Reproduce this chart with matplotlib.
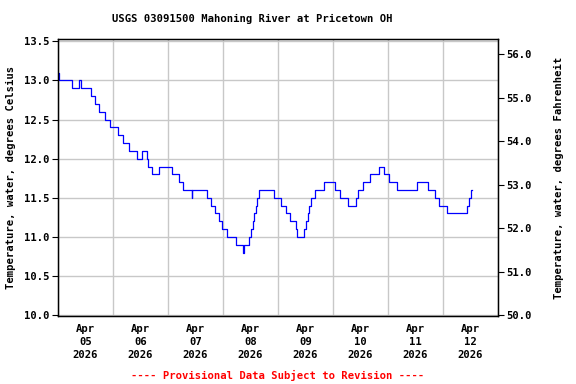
import matplotlib
matplotlib.use("Agg")
import matplotlib.pyplot as plt
import matplotlib.dates as mdates
import pandas as pd

# hours since 2026-04-05 00:00 at which each reading starts, and the reading (deg C)
hours = [0, 0.44, 6.1, 9.0, 9.9, 14.3, 16.3, 17.8, 20.6, 22.7, 26.2, 28.2, 31.1,
         34.3, 36.5, 38.7, 39.3, 41.0, 44.0, 49.9, 52.9, 54.4, 58.4, 58.6, 65.1,
         66.6, 68.5, 70.4, 71.4, 73.9, 77.7, 80.8, 81.0, 83.5, 84.3, 85.0, 85.6,
         86.3, 87.0, 87.6, 94.3, 97.2, 99.5, 101.2, 103.9, 104.2, 107.5, 108.2,
         108.9, 109.6, 110.6, 112.0, 116.2, 120.7, 123.0, 126.4, 129.9, 131.0,
         133.0, 136.1, 140.1, 142.4, 144.6, 147.8, 156.7, 161.6, 164.5, 166.4,
         169.6, 178.3, 179.5, 180.2, 180.5]
temps = [13.1, 13.0, 12.9, 13.0, 12.9, 12.8, 12.7, 12.6, 12.5, 12.4, 12.3, 12.2, 12.1,
         12.0, 12.1, 12.0, 11.9, 11.8, 11.9, 11.8, 11.7, 11.6, 11.5, 11.6, 11.5,
         11.4, 11.3, 11.2, 11.1, 11.0, 10.9, 10.8, 10.9, 11.0, 11.1, 11.2, 11.3,
         11.4, 11.5, 11.6, 11.5, 11.4, 11.3, 11.2, 11.1, 11.0, 11.1, 11.2,
         11.3, 11.4, 11.5, 11.6, 11.7, 11.6, 11.5, 11.4, 11.5, 11.6,
         11.7, 11.8, 11.9, 11.8, 11.7, 11.6, 11.7, 11.6, 11.5, 11.4,
         11.3, 11.4, 11.5, 11.6, 11.6]

start = pd.Timestamp("2026-04-05 00:00")
times = [start + pd.Timedelta(hours=h) for h in hours]
day_labels = pd.date_range("2026-04-05 12:00", periods=8, freq="D")

font = {"family": "DejaVu Sans Mono", "weight": "bold", "size": 7.6}

fig = plt.figure(figsize=(5.76, 3.84), dpi=100)
ax = fig.add_axes([58 / 576, 1 - 316 / 384, 440 / 576, 277 / 384])

ax.step(times, temps, where="post", color="#0000ff", lw=0.9)

ax.set_xlim(start, start + pd.Timedelta(days=8))
ax.set_ylim(9.99, 13.53)
ax.set_yticks([10.0, 10.5, 11.0, 11.5, 12.0, 12.5, 13.0, 13.5])
ax.set_yticklabels([f"{v:.1f}" for v in ax.get_yticks()], fontdict=font)

ax.xaxis.set_major_locator(mdates.DayLocator())
ax.xaxis.set_major_formatter(plt.NullFormatter())
ax.set_xticks(day_labels, minor=True)
ax.set_xticklabels([d.strftime("%b\n%d\n%Y") for d in day_labels], minor=True,
                   fontdict=font, linespacing=1.35)
ax.tick_params(axis="x", which="both", length=0, pad=6)
ax.tick_params(axis="y", length=4, width=0.8, pad=2)
ax.grid(True, which="major", color="#c8c8c8", lw=1)
ax.set_axisbelow(True)
for s in ax.spines.values():
    s.set_linewidth(1)

ax.set_ylabel("Temperature, water, degrees Celsius", fontdict=font, labelpad=6)

ax2 = ax.twinx()
ax2.set_ylim(9.99 * 1.8 + 32, 13.53 * 1.8 + 32)
ax2.set_yticks([50, 51, 52, 53, 54, 55, 56])
ax2.set_yticklabels([f"{v:.1f}" for v in ax2.get_yticks()], fontdict=font)
ax2.tick_params(axis="y", length=4, width=0.8, pad=2)
ax2.set_ylabel("Temperature, water, degrees Fahrenheit", fontdict=font, labelpad=16)

fig.text(252 / 576, 1 - 19 / 384, "USGS 03091500 Mahoning River at Pricetown OH",
         ha="center", va="center", **font)
fig.text(278 / 576, 1 - 375 / 384, "---- Provisional Data Subject to Revision ----",
         ha="center", va="center", color="red", **font)

fig.savefig("out.png", dpi=100)
